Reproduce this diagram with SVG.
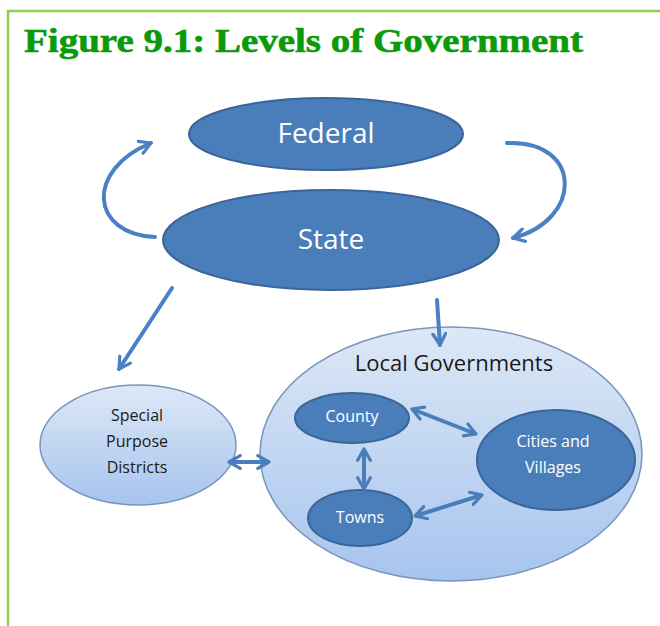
<svg xmlns="http://www.w3.org/2000/svg" width="660" height="626" viewBox="0 0 660 626">
<defs>
<style>
.title{font-family:"Liberation Serif",serif;font-weight:bold;fill:#0a9a0a;stroke:#0a9a0a;stroke-width:0.6;font-size:33px}
.dark{fill:#4a7ebb;stroke:#3a6598;stroke-width:2}
.wt{font-family:"Open Sans","Liberation Sans",sans-serif;fill:#ffffff;text-anchor:middle}
.bt{font-family:"Open Sans","Liberation Sans",sans-serif;fill:#1a1a1a;text-anchor:middle}
.arr{fill:none;stroke:#4a80c4;stroke-width:4;stroke-linecap:round}
.arr2{fill:none;stroke:#4a7ebb;stroke-width:4}
</style>
<linearGradient id="lg1" x1="0" y1="0" x2="0" y2="1">
<stop offset="0" stop-color="#dde8f6"/>
<stop offset="1" stop-color="#a7c4ee"/>
</linearGradient>
<marker id="ah" viewBox="0 0 10 10" refX="8" refY="5" markerWidth="4" markerHeight="4" orient="auto-start-reverse" markerUnits="strokeWidth">
<path d="M1,1 L8,5 L1,9" fill="none" stroke="#4a80c4" stroke-width="2" stroke-linecap="round" stroke-linejoin="round"/>
</marker>
<marker id="ah2" viewBox="0 0 10 10" refX="8" refY="5" markerWidth="4" markerHeight="4" orient="auto-start-reverse" markerUnits="strokeWidth">
<path d="M1,1 L8,5 L1,9" fill="none" stroke="#4a7ebb" stroke-width="2" stroke-linecap="round" stroke-linejoin="round"/>
</marker>
</defs>
<rect width="660" height="626" fill="#ffffff"/>
<path d="M8,626 L8,11 L660,11" fill="none" stroke="#92d050" stroke-width="2.5"/>
<text class="title" x="24" y="52" textLength="559" lengthAdjust="spacingAndGlyphs">Figure 9.1: Levels of Government</text>

<g id="local">
<ellipse cx="451" cy="454" rx="191" ry="127" fill="url(#lg1)" stroke="#7a95bb" stroke-width="1.5"/>
<text class="bt" x="454" y="371" font-size="22">Local Governments</text>
</g>
<g id="special">
<ellipse cx="138" cy="445" rx="98" ry="60" fill="url(#lg1)" stroke="#7a95bb" stroke-width="1.5"/>
<text class="bt" x="137" y="421" font-size="16">Special</text>
<text class="bt" x="137" y="447" font-size="16">Purpose</text>
<text class="bt" x="137" y="473" font-size="16">Districts</text>
</g>
<g id="federal">
<ellipse class="dark" cx="326" cy="134" rx="137" ry="36"/>
<text class="wt" x="326" y="143" font-size="28">Federal</text>
</g>
<g id="state">
<ellipse class="dark" cx="331" cy="240" rx="168" ry="50"/>
<text class="wt" x="331" y="249" font-size="28">State</text>
</g>
<g id="county">
<ellipse class="dark" cx="352" cy="418" rx="57" ry="25"/>
<text class="wt" x="352" y="422" font-size="16">County</text>
</g>
<g id="cities">
<ellipse class="dark" cx="556" cy="460" rx="79" ry="50"/>
<text class="wt" x="553" y="447" font-size="16">Cities and</text>
<text class="wt" x="553" y="473" font-size="16">Villages</text>
</g>
<g id="towns">
<ellipse class="dark" cx="360" cy="518" rx="52" ry="28"/>
<text class="wt" x="360" y="523" font-size="16">Towns</text>
</g>

<g id="connectors">
<path class="arr" d="M155,237 C90,234 85,170 151,143" marker-end="url(#ah)"/>
<path class="arr" d="M507,143 C583,140 583,220 513,238" marker-end="url(#ah)"/>
<path class="arr" d="M172,288 L119,369" marker-end="url(#ah)"/>
<path class="arr" d="M437,300 L440,345" marker-end="url(#ah)"/>
<path class="arr2" d="M229,462 L269,462" marker-start="url(#ah2)" marker-end="url(#ah2)"/>
<path class="arr2" d="M412,409 L476,434" marker-start="url(#ah2)" marker-end="url(#ah2)"/>
<path class="arr2" d="M364,449 L364,489" marker-start="url(#ah2)" marker-end="url(#ah2)"/>
<path class="arr2" d="M415,516 L482,495" marker-start="url(#ah2)" marker-end="url(#ah2)"/>
</g>
</svg>
